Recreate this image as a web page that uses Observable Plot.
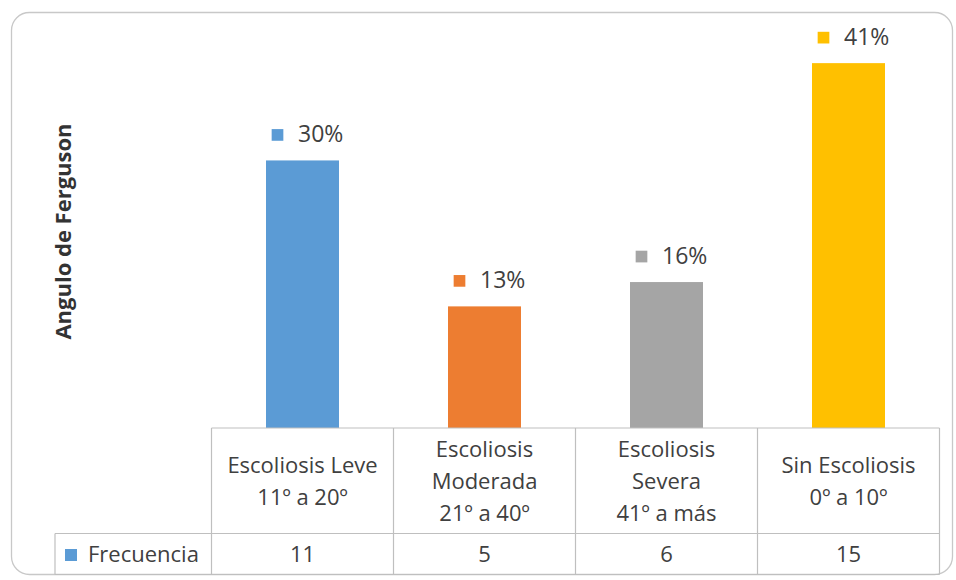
<!DOCTYPE html>
<html>
<head>
<meta charset="utf-8">
<script src="https://cdn.jsdelivr.net/npm/d3@7"></script>
<script src="https://cdn.jsdelivr.net/npm/@observablehq/plot@0.6"></script>
<style>
  html, body { margin: 0; padding: 0; background: #ffffff; }
  #chart { width: 956px; height: 580px; }
  svg { display: block; }
</style>
</head>
<body>
<div id="chart"></div>
<script>
// ---- data ----
const categories = ["Escoliosis Leve", "Escoliosis Moderada", "Escoliosis Severa", "Sin Escoliosis"];
const categoryLines = [
  ["Escoliosis Leve", "11º a 20º"],
  ["Escoliosis", "Moderada", "21º a 40º"],
  ["Escoliosis", "Severa", "41º a más"],
  ["Sin Escoliosis", "0º a 10º"]
];
const frecuencia = [11, 5, 6, 15];
const percentLabels = ["30%", "13%", "16%", "41%"];
const barColors = ["#5B9BD5", "#ED7D31", "#A5A5A5", "#FFC000"];
const seriesName = "Frecuencia";
const yTitle = "Angulo de Ferguson";

const total = d3.sum(frecuencia);
const data = categories.map((c, i) => ({
  cat: c,
  share: frecuencia[i] / total,
  label: percentLabels[i],
  color: barColors[i]
}));

const FONT = "'Open Sans', 'Liberation Sans', sans-serif";
const TXT = "#404040";

const plot = Plot.plot({
  width: 956,
  height: 580,
  marginTop: 23,
  marginBottom: 152,
  marginLeft: 210,
  marginRight: 15,
  style: { fontFamily: FONT, background: "transparent", overflow: "visible" },
  x: { domain: categories, paddingInner: 0.6, paddingOuter: 0.3, axis: null },
  y: { domain: [0, 0.45], axis: null },
  marks: [
    Plot.barY(data, { x: "cat", y: "share", fill: "color" }),
    Plot.dot(data, { x: "cat", y: "share", fill: "color", symbol: "square", r: 6.6, dx: -25.5, dy: -26 }),
    Plot.text(data, { x: "cat", y: "share", text: "label", textAnchor: "start", dx: -5, dy: -26, fontSize: 23, fill: TXT })
  ]
});

document.getElementById("chart").appendChild(plot);

// ---- frame, axis title and data table (positioned with the plot's scales) ----
const svg = d3.select(plot);
const xs = plot.scale("x");
const ys = plot.scale("y");
const step = xs.step, bw = xs.bandwidth;
const centers = categories.map(c => xs.apply(c) + bw / 2);
const tableTop = ys.apply(0);
const row1Bottom = tableTop + 105.5;
const tableBottom = tableTop + 146.5;
const tableLeft = centers[0] - step / 2;
const tableRight = centers[centers.length - 1] + step / 2;
const legendLeft = 55;
const gridColor = "#BFBFBF";

// outer rounded frame
svg.insert("rect", ":first-child")
  .attr("x", 11.5).attr("y", 12.5)
  .attr("width", 941).attr("height", 562)
  .attr("rx", 18).attr("ry", 18)
  .attr("fill", "#ffffff")
  .attr("stroke", "#C8C8C8").attr("stroke-width", 1.3);

const g = svg.append("g").attr("font-family", FONT).attr("text-anchor", "start");

// y axis title
g.append("text")
  .attr("transform", `translate(71,231.5) rotate(-90)`)
  .attr("text-anchor", "middle")
  .attr("font-size", 22)
  .attr("font-weight", "bold")
  .attr("fill", "#333333")
  .text(yTitle);

// table grid
const lines = [];
lines.push([tableLeft, tableTop, tableRight, tableTop]);
lines.push([legendLeft, row1Bottom, tableRight, row1Bottom]);
lines.push([legendLeft, tableBottom, tableRight, tableBottom]);
lines.push([legendLeft, row1Bottom, legendLeft, tableBottom]);
centers.forEach(c => lines.push([c - step / 2, tableTop, c - step / 2, tableBottom]));
lines.push([tableRight, tableTop, tableRight, tableBottom]);
g.selectAll("line.grid").data(lines).join("line")
  .attr("x1", d => d[0]).attr("y1", d => d[1])
  .attr("x2", d => d[2]).attr("y2", d => d[3])
  .attr("stroke", gridColor).attr("stroke-width", 1.2);

// header cells
categoryLines.forEach((ls, i) => {
  const base = tableTop + 61 - (ls.length - 1) * 16;
  const t = g.append("text")
    .attr("text-anchor", "middle")
    .attr("font-size", 22)
    .attr("fill", TXT);
  ls.forEach((s, j) => {
    t.append("tspan").attr("x", centers[i]).attr("y", base + j * 32).text(s);
  });
});

// value row
frecuencia.forEach((v, i) => {
  g.append("text")
    .attr("x", centers[i]).attr("y", tableTop + 134)
    .attr("text-anchor", "middle")
    .attr("font-size", 22)
    .attr("fill", TXT)
    .text(v);
});

// legend key + series name
g.append("rect")
  .attr("x", 65).attr("y", tableTop + 121)
  .attr("width", 12).attr("height", 12)
  .attr("fill", barColors[0]);
g.append("text")
  .attr("x", 88).attr("y", tableTop + 134)
  .attr("text-anchor", "start")
  .attr("font-size", 22)
  .attr("fill", TXT)
  .text(seriesName);
</script>
</body>
</html>
